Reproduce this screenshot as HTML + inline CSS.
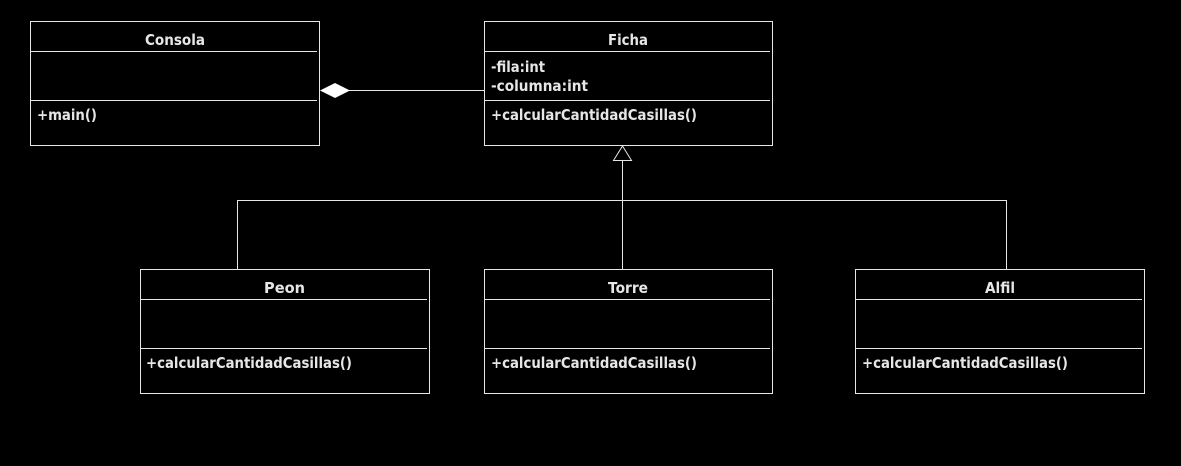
<!DOCTYPE html>
<html><head><meta charset="utf-8"><style>
html,body{margin:0;padding:0;background:#000;width:1181px;height:466px;overflow:hidden}
svg{display:block}
text{font-family:"DejaVu Sans","Liberation Sans",sans-serif;font-size:15px;font-weight:bold;fill:#e6e6e6}
</style></head><body>
<svg width="1181" height="466" viewBox="0 0 1181 466">
<g fill="none" stroke="#e6e6e6" stroke-width="1">
  <rect x="30.5" y="21.5" width="289" height="124"/>
  <line x1="30.5" y1="51.5" x2="317" y2="51.5"/>
  <line x1="30.5" y1="100.5" x2="317" y2="100.5"/>
  <rect x="484.5" y="21.5" width="288" height="124"/>
  <line x1="484.5" y1="51.5" x2="770" y2="51.5"/>
  <line x1="484.5" y1="100.5" x2="770" y2="100.5"/>
  <rect x="140.5" y="269.5" width="289" height="124"/>
  <line x1="140.5" y1="299.5" x2="427" y2="299.5"/>
  <line x1="140.5" y1="348.5" x2="427" y2="348.5"/>
  <rect x="484.5" y="269.5" width="288" height="124"/>
  <line x1="484.5" y1="299.5" x2="770" y2="299.5"/>
  <line x1="484.5" y1="348.5" x2="770" y2="348.5"/>
  <rect x="855.5" y="269.5" width="289" height="124"/>
  <line x1="855.5" y1="299.5" x2="1142" y2="299.5"/>
  <line x1="855.5" y1="348.5" x2="1142" y2="348.5"/>
  <line x1="349" y1="90.5" x2="484.5" y2="90.5"/>
  <line x1="622.5" y1="160" x2="622.5" y2="269.5"/>
  <polyline points="237.5,269.5 237.5,200.5 1006.5,200.5 1006.5,269.5"/>
  <polygon points="622.5,146 631.5,160.5 613.5,160.5"/>
</g>
<polygon points="320,90.5 335,83 350,90.5 335,98" fill="#fff"/>
<text x="145" y="45" textLength="60" lengthAdjust="spacingAndGlyphs">Consola</text>
<text x="37" y="120" textLength="60" lengthAdjust="spacingAndGlyphs">+main()</text>
<text x="608" y="45" textLength="40" lengthAdjust="spacingAndGlyphs">Ficha</text>
<text x="491" y="72" textLength="54" lengthAdjust="spacingAndGlyphs">-fila:int</text>
<text x="491" y="91" textLength="97" lengthAdjust="spacingAndGlyphs">-columna:int</text>
<text x="491" y="120" textLength="206" lengthAdjust="spacingAndGlyphs">+calcularCantidadCasillas()</text>
<text x="264" y="293" textLength="41" lengthAdjust="spacingAndGlyphs">Peon</text>
<text x="146" y="368" textLength="206" lengthAdjust="spacingAndGlyphs">+calcularCantidadCasillas()</text>
<text x="608" y="293" textLength="40" lengthAdjust="spacingAndGlyphs">Torre</text>
<text x="491" y="368" textLength="206" lengthAdjust="spacingAndGlyphs">+calcularCantidadCasillas()</text>
<text x="985" y="293" textLength="30" lengthAdjust="spacingAndGlyphs">Alfil</text>
<text x="862" y="368" textLength="206" lengthAdjust="spacingAndGlyphs">+calcularCantidadCasillas()</text>
</svg>
</body></html>
